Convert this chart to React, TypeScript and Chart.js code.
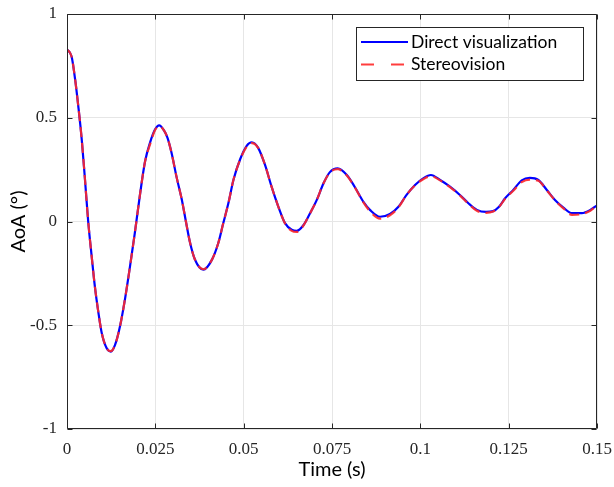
import React, { useEffect, useRef } from "react";
import { Chart, registerables } from "chart.js";

Chart.register(...registerables);

// time in milliseconds
const timeMs = [0, 1.3, 2.3, 3.2, 4.2, 5.1, 6.0, 7.0, 7.9, 8.9, 9.8, 11.2, 12.4, 13.6, 15.0, 16.4, 17.8, 19.2, 20.7, 22.1, 23.5, 24.9, 26.1, 27.4, 28.4, 29.6, 31.0, 32.5, 33.6, 34.8, 36.2, 38.6, 41.0, 42.8, 44.2, 45.7, 47.1, 49.0, 50.9, 52.3, 54.1, 56.0, 57.9, 59.8, 61.7, 63.6, 65.0, 66.9, 68.8, 70.7, 72.6, 74.4, 76.6, 79.2, 81.5, 83.9, 85.8, 88.6, 91.4, 93.8, 96.1, 98.5, 100.8, 103.0, 105.6, 108.4, 111.2, 113.6, 116.0, 118.6, 120.6, 122.2, 124.0, 126.3, 128.7, 131.0, 133.4, 135.8, 138.1, 140.5, 142.9, 145.7, 148.1, 150.0];

const directValues = [0.83, 0.795, 0.685, 0.555, 0.39, 0.2, 0.0, -0.17, -0.315, -0.44, -0.535, -0.61, -0.627, -0.595, -0.505, -0.375, -0.22, -0.055, 0.135, 0.29, 0.38, 0.443, 0.463, 0.44, 0.405, 0.33, 0.215, 0.105, 0.005, -0.1, -0.183, -0.232, -0.185, -0.105, -0.01, 0.09, 0.2, 0.3, 0.366, 0.382, 0.355, 0.275, 0.168, 0.072, -0.008, -0.04, -0.045, -0.018, 0.04, 0.104, 0.184, 0.238, 0.256, 0.224, 0.165, 0.095, 0.055, 0.023, 0.036, 0.071, 0.128, 0.176, 0.208, 0.224, 0.2, 0.168, 0.128, 0.088, 0.056, 0.046, 0.05, 0.07, 0.112, 0.152, 0.198, 0.21, 0.2, 0.152, 0.104, 0.067, 0.04, 0.04, 0.055, 0.078];

const stereoValues = [0.83, 0.795, 0.685, 0.555, 0.39, 0.2, 0.0, -0.17, -0.315, -0.44, -0.535, -0.61, -0.625, -0.595, -0.505, -0.375, -0.22, -0.055, 0.135, 0.29, 0.372, 0.44, 0.46, 0.44, 0.405, 0.33, 0.215, 0.105, 0.005, -0.1, -0.183, -0.23, -0.185, -0.105, -0.01, 0.09, 0.2, 0.298, 0.362, 0.378, 0.355, 0.275, 0.168, 0.072, -0.01, -0.045, -0.05, -0.02, 0.04, 0.104, 0.184, 0.236, 0.252, 0.222, 0.163, 0.092, 0.048, 0.014, 0.03, 0.068, 0.128, 0.174, 0.204, 0.218, 0.198, 0.166, 0.126, 0.086, 0.052, 0.042, 0.048, 0.068, 0.11, 0.148, 0.19, 0.202, 0.196, 0.15, 0.102, 0.063, 0.032, 0.036, 0.052, 0.078];

const xTickLabels = ["0", "0.025", "0.05", "0.075", "0.1", "0.125", "0.15"];
const yTickLabels = ["-1", "-0.5", "0", "0.5", "1"];

const seriesNames = ["Direct visualization", "Stereovision"];

const axisColor = "#262626";

const axisBoxPlugin = {
  id: "axisBox",
  afterDatasetsDraw(chart: any) {
    const { ctx, chartArea, scales } = chart;
    const { left, right, top, bottom } = chartArea;
    const L = Math.round(left) + 0.5;
    const R = Math.round(right) - 0.5;
    const T = Math.round(top) + 0.5;
    const B = Math.round(bottom) - 0.5;
    ctx.save();
    ctx.strokeStyle = axisColor;
    ctx.lineWidth = 1;
    ctx.setLineDash([]);
    ctx.beginPath();
    ctx.rect(L, T, R - L, B - T);
    const tl = 5;
    scales.x.ticks.forEach((t: any) => {
      const px = Math.round(scales.x.getPixelForValue(t.value)) + 0.5;
      ctx.moveTo(px, B);
      ctx.lineTo(px, B - tl);
      ctx.moveTo(px, T);
      ctx.lineTo(px, T + tl);
    });
    scales.y.ticks.forEach((t: any) => {
      const py = Math.round(scales.y.getPixelForValue(t.value)) + 0.5;
      ctx.moveTo(L, py);
      ctx.lineTo(L + tl, py);
      ctx.moveTo(R, py);
      ctx.lineTo(R - tl, py);
    });
    ctx.stroke();
    ctx.restore();
  },
};

const boxLegendPlugin = {
  id: "boxLegend",
  afterDraw(chart: any) {
    const { ctx, chartArea } = chart;
    const x0 = Math.round(chartArea.right) - 241;
    const y0 = Math.round(chartArea.top) + 13;
    const w = 227;
    const h = 53;
    ctx.save();
    ctx.fillStyle = "#ffffff";
    ctx.fillRect(x0, y0, w, h);
    ctx.strokeStyle = axisColor;
    ctx.lineWidth = 1;
    ctx.setLineDash([]);
    ctx.strokeRect(x0 + 0.5, y0 + 0.5, w, h);
    chart.data.datasets.forEach((ds: any, i: number) => {
      const y = y0 + 15 + i * 22.5;
      ctx.beginPath();
      ctx.strokeStyle = ds.borderColor;
      ctx.lineWidth = 2;
      ctx.setLineDash(i === 1 ? [13, 17] : []);
      ctx.moveTo(x0 + 5, y);
      ctx.lineTo(x0 + 52, y);
      ctx.stroke();
      ctx.setLineDash([]);
      ctx.fillStyle = "#000000";
      ctx.font = "17.5px Lato";
      ctx.textBaseline = "middle";
      ctx.textAlign = "left";
      ctx.fillText(ds.label, x0 + 55, y);
    });
    ctx.restore();
  },
};

export default function App() {
  const canvasRef = useRef<HTMLCanvasElement | null>(null);

  useEffect(() => {
    document.body.style.margin = "0";
    const canvas = canvasRef.current;
    if (!canvas) return;
    const toPoints = (vals: number[]) =>
      vals.map((v, i) => ({ x: timeMs[i] / 1000, y: v }));

    const chart = new Chart(canvas, {
      type: "line",
      data: {
        datasets: [
          {
            label: seriesNames[0],
            data: toPoints(directValues),
            borderColor: "#0000ff",
            borderWidth: 2.2,
            pointRadius: 0,
            cubicInterpolationMode: "monotone",
            fill: false,
            order: 1,
          },
          {
            label: seriesNames[1],
            data: toPoints(stereoValues),
            borderColor: "rgba(255,40,40,0.9)",
            borderWidth: 2.2,
            borderDash: [10, 6],
            pointRadius: 0,
            cubicInterpolationMode: "monotone",
            fill: false,
            order: 0,
          },
        ],
      },
      options: {
        animation: false,
        responsive: false,
        maintainAspectRatio: false,
        events: [],
        layout: { padding: { top: 14, right: 17, left: 0, bottom: 0 } },
        plugins: {
          legend: { display: false },
          tooltip: { enabled: false },
        },
        scales: {
          x: {
            type: "linear",
            min: 0,
            max: 0.15,
            ticks: {
              stepSize: 0.025,
              padding: 10,
              maxRotation: 0,
              autoSkip: false,
              color: "#262626",
              font: { family: "Liberation Serif", size: 17 },
              callback: (_v: any, i: number) => xTickLabels[i],
            },
            grid: { color: "#e6e6e6", drawTicks: false, lineWidth: 1 },
            border: { display: false },
            title: {
              display: true,
              text: "Time (s)",
              color: "#000000",
              font: { family: "Lato", size: 20 },
              padding: { top: 0, bottom: 5 },
            },
            afterFit: (scale: any) => {
              scale.height = 58;
              scale.paddingLeft = 0;
              scale.paddingRight = 0;
            },
          },
          y: {
            type: "linear",
            min: -1,
            max: 1,
            ticks: {
              stepSize: 0.5,
              padding: 10,
              color: "#262626",
              font: { family: "Liberation Serif", size: 17 },
              callback: (_v: any, i: number) => yTickLabels[i],
            },
            grid: { color: "#e6e6e6", drawTicks: false, lineWidth: 1 },
            border: { display: false },
            title: {
              display: true,
              text: "AoA (°)",
              color: "#000000",
              font: { family: "Lato", size: 20 },
              padding: { top: 7, bottom: 0 },
            },
            afterFit: (scale: any) => {
              scale.width = 67;
              scale.paddingTop = 0;
              scale.paddingBottom = 0;
            },
          },
        },
      },
      plugins: [axisBoxPlugin, boxLegendPlugin],
    } as any);

    return () => {
      chart.destroy();
    };
  }, []);

  return (
    <div style={{ width: 614, height: 487, background: "#ffffff" }}>
      <canvas ref={canvasRef} width={614} height={487} style={{ display: "block" }} />
    </div>
  );
}
